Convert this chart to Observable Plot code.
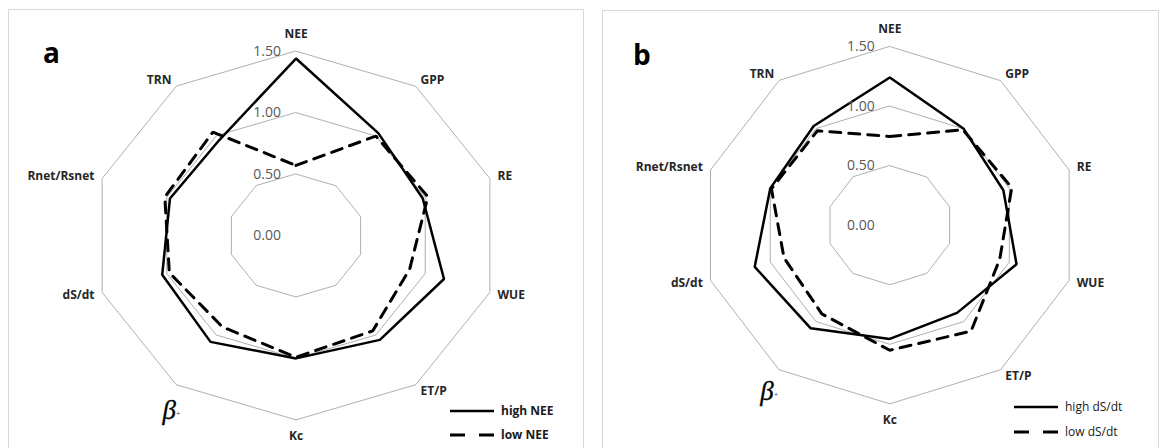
<!DOCTYPE html>
<html><head><meta charset="utf-8">
<script src="https://cdn.jsdelivr.net/npm/d3@7"></script>
<script src="https://cdn.jsdelivr.net/npm/@observablehq/plot@0.6"></script>
<style>
html,body{margin:0;padding:0;background:#fff;}
body{width:1164px;height:448px;overflow:hidden;position:relative;font-family:"Open Sans",sans-serif;}
.panel{position:absolute;top:0;width:582px;height:448px;}
#overlay{position:absolute;left:0;top:0;}
</style></head><body>
<svg id="overlay" width="1164" height="448"></svg>
<div id="pa" class="panel" style="left:0px"></div>
<div id="pb" class="panel" style="left:582px"></div>
<script>
// ---- data ----
const categories = ["NEE", "GPP", "RE", "WUE", "ET/P", "Kc", "β₊", "dS/dt", "Rnet/Rsnet", "TRN"];
const ticks = [0, 0.5, 1.0, 1.5];
const tickLabels = ["0.00", "0.50", "1.00", "1.50"];
const highNEE = [1.44, 1.03, 0.98, 1.145, 1.05, 1.00, 1.07, 1.035, 0.975, 0.96];
const lowNEE  = [0.57, 1.00, 1.02, 0.88, 0.96, 0.99, 0.92, 0.98, 1.015, 1.04];
const highDS  = [1.24, 1.00, 0.95, 1.06, 0.91, 0.955, 1.07, 1.13, 1.00, 1.03];
const lowDS   = [0.745, 0.99, 1.02, 0.92, 1.10, 1.05, 0.92, 0.885, 0.99, 0.98];
const legendA = ["high NEE", "low NEE"];
const legendB = ["high dS/dt", "low dS/dt"];
const panelLetters = ["a", "b"];

const n = categories.length;
const ang = i => i * 2 * Math.PI / n;
const toXY = (vals, s) => vals.map((v, i) => ({s, cat: categories[i], x: v * Math.sin(ang(i)), y: v * Math.cos(ang(i))}));

function radar(cfg) {
  const {cx, cy, kx, ky, high, low} = cfg;
  const rings = ticks.filter(t => t > 0).flatMap(t => categories.map((c, i) => ({ring: t, x: t * Math.sin(ang(i)), y: t * Math.cos(ang(i))})));
  const outer = ticks[ticks.length - 1];
  const labelMarks = categories.flatMap((c, i) => {
    const a = ang(i), s = Math.sin(a), co = Math.cos(a);
    const opts = {x: () => outer * s, y: () => outer * co, text: d => d, fontSize: 12, fontWeight: "bold", fill: "#262626", lineAnchor: "middle", fontFamily: "Open Sans"};
    if (Math.abs(s) < 1e-6) { opts.textAnchor = "middle"; opts.dy = co > 0 ? -17 : 16; }
    else { opts.textAnchor = s > 0 ? "start" : "end"; opts.dx = 8 * s; opts.dy = -8 * co; }
    if (c === "β₊") {
      const base = {x: opts.x, y: opts.y, lineAnchor: "middle", fill: "#000"};
      return [
        Plot.text([c], {...base, text: d => d[0], textAnchor: "middle", dx: cfg.betaDx, dy: cfg.betaDy, fontSize: 27, fontStyle: "italic", fontFamily: "Liberation Serif, DejaVu Serif, serif", stroke: "#000", strokeWidth: 0.3}),
        Plot.text([c], {...base, text: () => "+", textAnchor: "middle", dx: cfg.betaDx + 9, dy: cfg.betaDy + 3, fontSize: 8, fill: "#555", fontFamily: "Open Sans"})
      ];
    }
    return [Plot.text([c], opts)];
  });
  return Plot.plot({
    width: 582, height: 448, margin: 0,
    style: {background: "transparent", overflow: "visible"},
    x: {type: "linear", domain: [-2, 2], range: [cx - 2 * kx, cx + 2 * kx], axis: null},
    y: {type: "linear", domain: [-2, 2], range: [cy + 2 * ky, cy - 2 * ky], axis: null},
    marks: [
      Plot.line(rings, {x: "x", y: "y", z: "ring", curve: "linear-closed", stroke: "#a6a6a6", strokeWidth: 0.9}),
      Plot.line(toXY(low, "low"), {x: "x", y: "y", curve: "linear-closed", stroke: "#000", strokeWidth: 3, strokeDasharray: "11,8", strokeLinejoin: "miter"}),
      Plot.line(toXY(high, "high"), {x: "x", y: "y", curve: "linear-closed", stroke: "#000", strokeWidth: 2.5, strokeLinejoin: "miter"}),
      Plot.text(ticks, {x: () => 0, y: d => d, text: (d, i) => tickLabels[i], textAnchor: "end", dx: -15, lineAnchor: "middle", fontSize: 14, fill: "#595959", fontFamily: "Open Sans"}),
      ...labelMarks
    ]
  });
}

document.getElementById("pa").appendChild(radar({cx: 295.5, cy: 235, kx: 135.9, ky: 122.9, high: highNEE, low: lowNEE, betaDx: -7, betaDy: 26}));
document.getElementById("pb").appendChild(radar({cx: 307.3, cy: 224.7, kx: 125.7, ky: 119.1, high: highDS, low: lowDS, betaDx: -12, betaDy: 22}));

// ---- overlay: panel borders, letters, legends ----
const ov = d3.select("#overlay");
const borders = [{x: 8.5, y: 9.5, w: 575, h: 460}, {x: 602.5, y: 10.5, w: 556, h: 460}];
ov.selectAll("rect").data(borders).join("rect")
  .attr("x", d => d.x).attr("y", d => d.y).attr("width", d => d.w).attr("height", d => d.h)
  .attr("fill", "none").attr("stroke", "#d9d9d9").attr("stroke-width", 1);
const letterPos = [{x: 43, y: 63}, {x: 633, y: 65}];
ov.selectAll("text.letter").data(panelLetters).join("text").attr("class", "letter")
  .attr("x", (d, i) => letterPos[i].x).attr("y", (d, i) => letterPos[i].y)
  .attr("font-family", "Open Sans").attr("font-weight", "bold").attr("font-size", 28).text(d => d);

function legend(labels, x0, y0, gap, bold) {
  const g = ov.append("g");
  labels.forEach((lab, i) => {
    const y = y0 + i * gap;
    if (i === 0) {
      g.append("line").attr("x1", x0).attr("x2", x0 + 44).attr("y1", y).attr("y2", y).attr("stroke", "#000").attr("stroke-width", 2.5);
    } else {
      g.append("line").attr("x1", x0).attr("x2", x0 + 44).attr("y1", y).attr("y2", y).attr("stroke", "#000").attr("stroke-width", 3).attr("stroke-dasharray", "15,14");
    }
    g.append("text").attr("x", x0 + 51).attr("y", y).attr("dy", "0.35em")
      .attr("font-family", "Open Sans").attr("font-size", 12).attr("font-weight", bold ? "bold" : "normal").attr("fill", "#1a1a1a").text(lab);
  });
}
legend(legendA, 450, 411, 24, true);
legend(legendB, 1014, 407, 25, false);
</script>
</body></html>
